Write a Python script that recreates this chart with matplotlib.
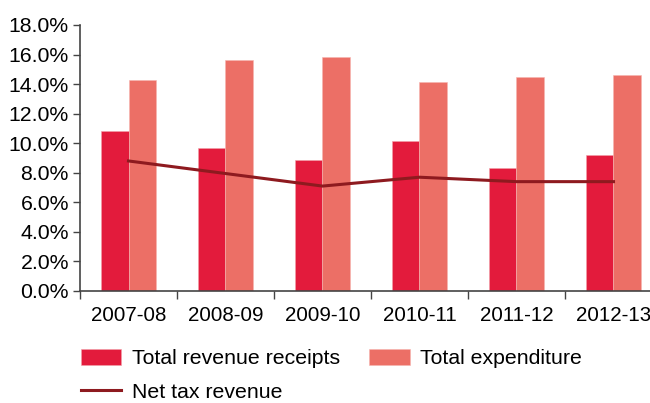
import numpy as np
import matplotlib.pyplot as plt
from matplotlib.ticker import FuncFormatter, FixedLocator

# dados (% )
anos = ['2007-08', '2008-09', '2009-10', '2010-11', '2011-12', '2012-13']
receitas = [10.85, 9.65, 8.85, 10.15, 8.35, 9.2]
despesas = [14.3, 15.65, 15.85, 14.15, 14.45, 14.65]
receita_tributaria = [8.8, 7.95, 7.1, 7.7, 7.4, 7.4]

cor_receita = '#E31B3C'
cor_despesa = '#EC6F66'
cor_linha = '#8E1A1F'

plt.rcParams['font.family'] = ['Liberation Sans', 'DejaVu Sans']
fs = 15.3

fig = plt.figure(figsize=(6.5, 4.03), dpi=100)
ax = fig.add_axes([80/650, 1 - 291/403, 582/650, 266/403])

x = np.arange(len(anos))
w = 0.28
b1 = ax.bar(x - w/2, receitas, w, color=cor_receita, edgecolor='#F3A0A8', linewidth=0.4,
            label='Total revenue receipts')
b2 = ax.bar(x + w/2, despesas, w, color=cor_despesa, edgecolor='#F6B5B0', linewidth=0.4,
            label='Total expenditure')
l1, = ax.plot(x, receita_tributaria, color=cor_linha, linewidth=2.2, label='Net tax revenue')

ax.set_xlim(-0.5, len(anos) - 0.5)
ax.set_ylim(0, 18)
ax.set_yticks(np.arange(0, 18.1, 2))
ax.yaxis.set_major_formatter(FuncFormatter(lambda v, p: f'{v:.1f}%'))

# ticks nas divisões, rótulos no centro
ax.xaxis.set_major_locator(FixedLocator(np.arange(-0.5, len(anos), 1)))
ax.xaxis.set_minor_locator(FixedLocator(x))
ax.set_xticklabels([], minor=False)
ax.set_xticklabels(anos, minor=True)
ax.tick_params(axis='x', which='major', length=6, width=1, color='#444444', direction='out')
ax.tick_params(axis='x', which='minor', length=0, pad=11, labelsize=14.8)
ax.tick_params(axis='y', length=5, width=1, color='#444444', direction='out', pad=3, labelsize=fs)

for s in ['top', 'right']:
    ax.spines[s].set_visible(False)
for s in ['left', 'bottom']:
    ax.spines[s].set_color('#444444')
    ax.spines[s].set_linewidth(1.2)

fig.legend([b1, l1, b2], ['Total revenue receipts', 'Net tax revenue', 'Total expenditure'],
           ncol=2, loc='upper left', bbox_to_anchor=(72/650, 1 - 340/403),
           frameon=False, fontsize=fs, handlelength=1.9, handleheight=0.85,
           handletextpad=0.5, columnspacing=1.4, labelspacing=0.65, borderaxespad=0)

fig.savefig('out.png', dpi=100)
